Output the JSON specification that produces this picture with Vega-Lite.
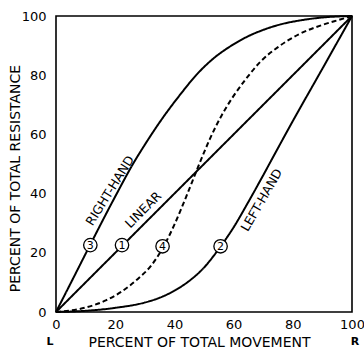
{
  "$schema": "https://vega.github.io/schema/vega-lite/v6.json",
  "width": 296,
  "height": 296,
  "autosize": {"type": "none"},
  "padding": {"left": 56, "top": 16, "right": 12, "bottom": 38},
  "background": "white",
  "config": {
    "view": {"stroke": "black", "strokeWidth": 1.6},
    "font": "DejaVu Sans",
    "text": {"font": "DejaVu Sans", "color": "black"}
  },
  "datasets": {
    "curves": [
      {"curve": "linear", "x": 0, "y": 0},
      {"curve": "linear", "x": 100, "y": 100},
      {"curve": "right", "x": 0, "y": 0},
      {"curve": "right", "x": 5, "y": 9.8},
      {"curve": "right", "x": 11.5, "y": 22.6},
      {"curve": "right", "x": 20, "y": 39},
      {"curve": "right", "x": 26, "y": 50},
      {"curve": "right", "x": 30, "y": 56.5},
      {"curve": "right", "x": 36, "y": 65.5},
      {"curve": "right", "x": 42, "y": 73.5},
      {"curve": "right", "x": 47.6, "y": 80.3},
      {"curve": "right", "x": 53, "y": 85.5},
      {"curve": "right", "x": 58.8, "y": 89.7},
      {"curve": "right", "x": 65, "y": 93.2},
      {"curve": "right", "x": 70, "y": 95.3},
      {"curve": "right", "x": 76, "y": 97.2},
      {"curve": "right", "x": 82.4, "y": 98.5},
      {"curve": "right", "x": 90, "y": 99.5},
      {"curve": "right", "x": 100, "y": 100},
      {"curve": "left", "x": 0, "y": 0},
      {"curve": "left", "x": 10, "y": 0.4},
      {"curve": "left", "x": 20, "y": 1.4},
      {"curve": "left", "x": 30, "y": 3.2},
      {"curve": "left", "x": 35, "y": 4.8},
      {"curve": "left", "x": 40, "y": 7.2},
      {"curve": "left", "x": 45, "y": 10.5},
      {"curve": "left", "x": 50, "y": 15},
      {"curve": "left", "x": 55, "y": 21.3},
      {"curve": "left", "x": 60, "y": 28.6},
      {"curve": "left", "x": 65, "y": 37.2},
      {"curve": "left", "x": 70, "y": 46.2},
      {"curve": "left", "x": 75, "y": 55.4},
      {"curve": "left", "x": 80, "y": 64.5},
      {"curve": "left", "x": 90, "y": 82.2},
      {"curve": "left", "x": 100, "y": 100},
      {"curve": "s", "x": 0, "y": 0},
      {"curve": "s", "x": 10, "y": 1.5},
      {"curve": "s", "x": 17, "y": 4},
      {"curve": "s", "x": 22, "y": 6.8},
      {"curve": "s", "x": 28, "y": 11.5},
      {"curve": "s", "x": 32, "y": 15.5},
      {"curve": "s", "x": 36, "y": 21.5},
      {"curve": "s", "x": 40, "y": 29.5},
      {"curve": "s", "x": 44, "y": 39},
      {"curve": "s", "x": 48, "y": 49},
      {"curve": "s", "x": 52, "y": 58.5},
      {"curve": "s", "x": 56, "y": 66.5},
      {"curve": "s", "x": 60, "y": 73},
      {"curve": "s", "x": 64, "y": 78.5},
      {"curve": "s", "x": 69, "y": 84.5},
      {"curve": "s", "x": 75, "y": 89.5},
      {"curve": "s", "x": 82, "y": 93.8},
      {"curve": "s", "x": 90, "y": 97},
      {"curve": "s", "x": 96, "y": 98.8},
      {"curve": "s", "x": 100, "y": 100}
    ],
    "markers": [
      {"num": "3", "x": 11.6, "y": 22.6},
      {"num": "1", "x": 22.3, "y": 22.6},
      {"num": "4", "x": 36, "y": 22.2},
      {"num": "2", "x": 55.6, "y": 22.2}
    ],
    "names": [
      {"name": "RIGHT-HAND", "x": 18.3, "y": 41},
      {"name": "LINEAR", "x": 29.5, "y": 34.5},
      {"name": "LEFT-HAND", "x": 69.5, "y": 37.8}
    ],
    "ends": [
      {"end": "L", "x": -2, "y": -10.2},
      {"end": "R", "x": 101, "y": -10.2}
    ]
  },
  "layer": [
    {
      "data": {"name": "curves"},
      "mark": {"type": "line", "interpolate": "monotone", "strokeWidth": 2, "color": "black"},
      "encoding": {
        "x": {
          "field": "x", "type": "quantitative",
          "scale": {"domain": [0, 100], "nice": false},
          "axis": {
            "values": [0, 20, 40, 60, 80, 100],
            "ticks": false, "domain": false, "grid": false,
            "labelFontSize": 13, "labelPadding": 6, "labelColor": "black",
            "labelFlush": false, "labelOverlap": false, "labelFont": "DejaVu Sans",
            "title": "PERCENT OF TOTAL MOVEMENT",
            "titleFontSize": 14, "titleFontWeight": "normal", "titleColor": "black",
            "titleFont": "DejaVu Sans",
            "titleX": 143, "titleY": 30, "titleBaseline": "middle", "titleAlign": "center"
          }
        },
        "y": {
          "field": "y", "type": "quantitative",
          "scale": {"domain": [0, 100], "nice": false},
          "axis": {
            "values": [0, 20, 40, 60, 80, 100],
            "ticks": false, "domain": false, "grid": false,
            "labelFontSize": 13, "labelPadding": 10, "labelColor": "black",
            "labelFlush": false, "labelOverlap": false, "labelFont": "DejaVu Sans",
            "title": "PERCENT OF TOTAL RESISTANCE",
            "titleFontSize": 14, "titleFontWeight": "normal", "titleColor": "black",
            "titleFont": "DejaVu Sans",
            "titleX": -41, "titleY": 162, "titleBaseline": "middle", "titleAlign": "center", "titleAngle": -90
          }
        },
        "strokeDash": {
          "field": "curve", "type": "nominal",
          "scale": {"domain": ["linear", "right", "left", "s"], "range": [[1, 0], [1, 0], [1, 0], [5, 3]]},
          "legend": null
        }
      }
    },
    {
      "data": {"name": "markers"},
      "mark": {"type": "point", "shape": "circle", "filled": false, "fill": "white", "fillOpacity": 1, "stroke": "black", "strokeWidth": 1.3, "size": 180, "opacity": 1},
      "encoding": {
        "x": {"field": "x", "type": "quantitative"},
        "y": {"field": "y", "type": "quantitative"}
      }
    },
    {
      "data": {"name": "markers"},
      "mark": {"type": "text", "fontSize": 11, "align": "center", "baseline": "middle", "dy": 0.5},
      "encoding": {
        "x": {"field": "x", "type": "quantitative"},
        "y": {"field": "y", "type": "quantitative"},
        "text": {"field": "num"}
      }
    },
    {
      "data": {"name": "names"},
      "transform": [{"filter": "datum.name === 'RIGHT-HAND'"}],
      "mark": {"type": "text", "fontSize": 12.5, "align": "center", "baseline": "middle", "angle": -58},
      "encoding": {
        "x": {"field": "x", "type": "quantitative"},
        "y": {"field": "y", "type": "quantitative"},
        "text": {"field": "name"}
      }
    },
    {
      "data": {"name": "names"},
      "transform": [{"filter": "datum.name === 'LINEAR'"}],
      "mark": {"type": "text", "fontSize": 12.5, "align": "center", "baseline": "middle", "angle": -45},
      "encoding": {
        "x": {"field": "x", "type": "quantitative"},
        "y": {"field": "y", "type": "quantitative"},
        "text": {"field": "name"}
      }
    },
    {
      "data": {"name": "names"},
      "transform": [{"filter": "datum.name === 'LEFT-HAND'"}],
      "mark": {"type": "text", "fontSize": 12.5, "align": "center", "baseline": "middle", "angle": -60},
      "encoding": {
        "x": {"field": "x", "type": "quantitative"},
        "y": {"field": "y", "type": "quantitative"},
        "text": {"field": "name"}
      }
    },
    {
      "data": {"name": "ends"},
      "mark": {"type": "text", "fontSize": 11, "fontWeight": "bold", "align": "center", "baseline": "middle"},
      "encoding": {
        "x": {"field": "x", "type": "quantitative"},
        "y": {"field": "y", "type": "quantitative"},
        "text": {"field": "end"}
      }
    }
  ]
}
